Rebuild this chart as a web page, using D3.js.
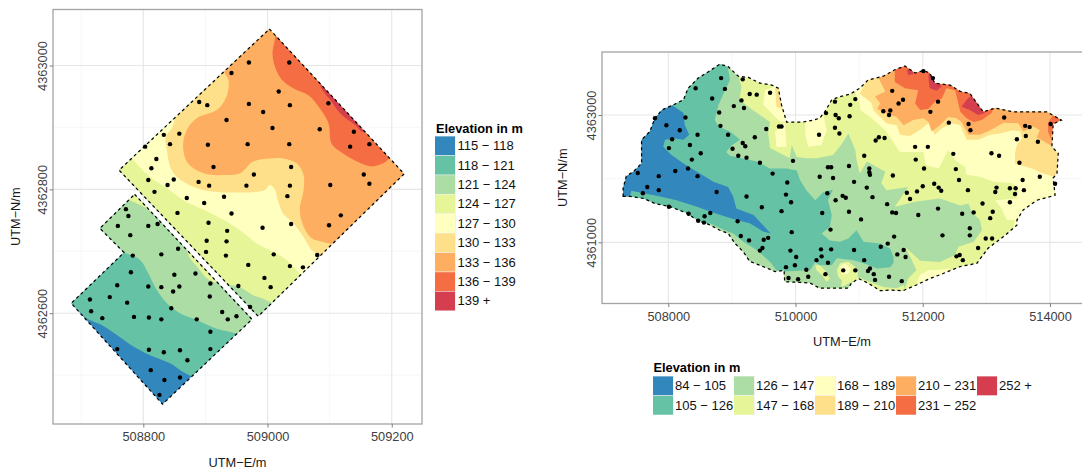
<!DOCTYPE html>
<html>
<head>
<meta charset="utf-8">
<script src="https://cdn.jsdelivr.net/npm/d3@7"></script>
<style>
    html, body { margin: 0; padding: 0; background: #fff; overflow: hidden; }
    text { font-family: "Liberation Sans", Arial, sans-serif; }
</style>
</head>
<body>
<script>
// all coordinates are metres east / north of the base values below
const leftBaseE = 508000, leftBaseN = 4362000;
const rightBaseE = 500000, rightBaseN = 4360000;

const palette = ['#3288bd', '#66c2a5', '#abdda4', '#e6f598', '#ffffbf', '#fee08b', '#fdae61', '#f46d43', '#d53e4f'];
const leftLabels = ['115 − 118', '118 − 121', '121 − 124', '124 − 127', '127 − 130', '130 − 133', '133 − 136', '136 − 139', '139 +'];
const rightLabels = ['84 − 105', '105 − 126', '126 − 147', '147 − 168', '168 − 189', '189 − 210', '210 − 231', '231 − 252', '252 +'];

const leftTicksE = [508800, 509000, 509200];
const leftTicksN = [4362600, 4362800, 4363000];
const leftMinorE = [508700, 508900, 509100];
const leftMinorN = [4362500, 4362700, 4362900];
const rightTicksE = [508000, 510000, 512000, 514000];
const rightTicksN = [4361000, 4363000];
const rightMinorE = [509000, 511000, 513000];
const rightMinorN = [4362000];

// survey fields, left map
const fieldUpper = [[1003,1059],[1220,825],[985,595],[761,831]];
const fieldLower = [[786,792],[975,590],[831,453],[684,616],[769,698],[730,737]];

// left map: area above each break, painted in order over the lowest band
const above118 = [[666,621],[698,602],[708,592],[733,581],[757,565],[784,546],[811,532],[843,519],[864,505],[878,497],[915,460],[1300,460],[1300,1100],[650,1100]];
const above121 = [[746,710],[769,698],[795,686],[808,664],[822,637],[838,616],[859,600],[886,589],[918,575],[948,567],[972,548],[1300,548],[1300,1100],[700,1100],[700,760]];
const above124 = [[746,807],[771,786],[804,770],[835,742],[862,718],[875,689],[886,676],[907,653],[932,645],[953,643],[977,629],[1004,618],[1036,589],[1300,589],[1300,1100],[746,1100]];
const above127 = [[771,863],[780,852],[811,820],[838,802],[864,783],[897,767],[934,748],[966,726],[983,712],[1009,699],[1031,686],[1052,663],[1084,621],[1300,621],[1300,1100],[771,1100]];
const above130 = [[843,944],[851,920],[846,899],[836,885],[838,863],[843,837],[854,820],[886,802],[913,796],[956,795],[983,796],[996,799],[1004,807],[1012,799],[1015,788],[1025,761],[1042,745],[1058,723],[1071,702],[1082,694],[1101,670],[1300,670],[1300,1100],[843,1100]];
const above133 = [[930,1009],[930,990],[937,977],[934,950],[918,928],[886,915],[870,896],[864,869],[872,842],[897,826],[934,823],[956,826],[977,845],[1004,850],[1025,850],[1047,842],[1058,823],[1058,799],[1052,767],[1058,740],[1071,721],[1090,715],[1104,710],[1117,686],[1300,686],[1300,1100],[930,1100]];
const above136 = [[1012,1073],[1012,1044],[1008,1020],[1012,998],[1023,977],[1042,963],[1066,952],[1084,931],[1098,907],[1103,874],[1117,861],[1144,845],[1168,837],[1186,842],[1196,850],[1229,880],[1229,1100],[1012,1100]];
const above139 = [[1076,985],[1082,974],[1090,958],[1103,942],[1117,923],[1141,904],[1154,893],[1181,912],[1117,993]];
const leftAreas = [above118, above121, above124, above127, above130, above133, above136, above139];

const leftSamples = [
    [970,1005],[1035,1005],[942,988],[1018,958],[890,941],[903,936],[970,938],[993,925],[1036,936],[934,912],
    [1008,899],[858,890],[833,888],[803,869],[843,873],[904,872],[968,873],[1035,873],[821,849],[813,834],
    [913,836],[1038,836],[808,815],[839,807],[849,816],[889,812],[906,806],[966,806],[978,824],[1036,806],
    [818,796],[870,786],[898,778],[930,788],[1032,789],[855,762],[942,761],[772,768],[776,757],[759,741],
    [808,741],[823,744],[905,746],[935,733],[992,738],[1038,744],[779,726],[902,717],[934,716],[856,704],
    [901,699],[933,693],[783,693],[829,695],[1010,695],[969,678],[1036,676],[780,666],[884,664],[850,662],
    [995,657],[758,645],[808,643],[829,642],[858,643],[848,635],[908,648],[953,644],[1005,642],[746,626],
    [714,622],[774,617],[907,627],[845,608],[972,610],[716,603],[927,602],[734,592],[785,594],[809,593],
    [829,590],[886,590],[936,590],[950,595],[908,570],[758,542],[809,541],[833,537],[859,540],[908,542],
    [871,524],[812,508],[834,492],[859,496],[826,468],[1098,939],[1084,897],[1139,893],[1133,869],[1164,873],
    [1155,824],[1101,807],[1164,809],[1118,758],[1099,742],[1080,694],[1057,674]
];

// study area, right map
const catchment = [
    [7290,1720],[7290,1850],[7340,2040],[7450,2110],[7580,2240],[7580,2610],[7710,2740],[7790,2950],[7900,3080],[8080,3160],
    [8240,3240],[8310,3420],[8470,3580],[8630,3680],[8810,3800],[8940,3760],[9100,3610],[9260,3590],[9440,3500],[9630,3470],
    [9730,3420],[9780,3160],[9860,2890],[9990,2890],[10120,2890],[10280,2920],[10380,2950],[10460,3050],[10570,3240],[10700,3290],
    [10860,3330],[11010,3420],[11140,3550],[11380,3610],[11560,3710],[11720,3770],[11880,3660],[12010,3700],[12110,3660],[12190,3500],
    [12430,3470],[12590,3370],[12740,3340],[12950,3050],[13140,3110],[13420,3050],[13710,3050],[13950,3050],[14180,2920],[14050,2860],
    [14030,2500],[14130,2400],[14110,2080],[14050,2010],[14080,1740],[13790,1660],[13580,1510],[13480,1350],[13480,1270],[13270,1090],
    [13030,910],[12850,670],[12590,620],[12320,510],[12110,430],[11900,330],[11690,240],[11490,250],[11330,240],[11140,360],
    [10990,430],[10880,360],[10830,280],[10590,280],[10380,280],[10230,360],[10120,370],[9830,380],[9820,560],[9680,540],
    [9440,640],[9280,700],[9180,850],[9050,980],[8940,1140],[8810,1190],[8660,1270],[8450,1350],[8290,1460],[8030,1560],
    [7790,1610],[7610,1690],[7400,1720]
];

// right map: elevation patches, painted in the order of rightAreas over the 147-168 band
const patchMid = [[8500,3860],[8920,3840],[9100,3710],[9100,3610],[9150,3450],[9120,3240],[9310,3090],[9440,3000],[9600,2890],[9570,2710],[9600,2480],[9760,2400],[9910,2320],[9940,2530],[10020,2340],[10180,2320],[10330,2320],[10590,2370],[10730,2550],[10830,2710],[10940,2450],[10960,2290],[11010,2080],[11120,2270],[11410,2110],[11350,1930],[11430,1820],[11770,1870],[11560,1560],[11900,1640],[12270,1690],[12590,1580],[12720,1610],[12770,1480],[12900,1350],[12930,1190],[12800,1010],[12560,930],[12510,800],[12270,690],[11960,710],[11720,930],[11830,720],[11900,560],[11770,430],[11700,220],[11700,-170],[7970,350],[7140,1400],[7140,2450]];
const patchTeal = [[7140,1610],[7140,2450],[7450,3240],[8500,3860],[8920,3840],[8970,3550],[8870,3340],[8790,3160],[8730,2920],[8790,2820],[8970,2740],[9130,2610],[9000,2530],[8910,2420],[8970,2360],[9390,2270],[9600,2160],[9860,2160],[10020,2130],[10070,1980],[10170,1820],[10310,1660],[10440,1790],[10590,1830],[10510,1660],[10570,1430],[10540,1240],[10410,1140],[10540,1030],[10700,1010],[10830,1060],[10960,1190],[11070,1010],[11330,980],[11490,900],[11540,770],[11540,670],[11490,610],[11280,590],[11070,670],[10910,720],[10650,750],[10570,640],[10380,640],[10310,690],[10230,560],[9810,540],[9700,560],[9600,690],[9390,880],[9180,1010],[9020,1140],[8890,1190],[8650,1300],[8500,1090],[7450,1300]];
const patchBlue = [[8080,3140],[8240,3030],[8260,2840],[8330,2690],[8240,2610],[8100,2630],[7950,2610],[7920,2500],[8050,2370],[8240,2240],[8450,2110],[8710,1950],[8940,1870],[9020,1720],[9070,1530],[9340,1430],[9610,1140],[9490,1170],[9280,1300],[9070,1350],[8760,1450],[8450,1560],[8130,1660],[7820,1730],[7610,1770],[7420,1810],[7400,1730],[7290,1690],[7140,1690],[7140,2450],[7450,3240],[7970,3240]];
const southStrip = [[10960,460],[11170,380],[11380,300],[11590,280],[11700,330],[11750,150],[10910,150]];
const southPocketA = [[10310,640],[10380,640],[10480,540],[10540,430],[10490,380],[10410,490],[10330,560]];
const southPocketB = [[10650,560],[10700,670],[10830,700],[10930,620],[10980,510],[10970,420],[10830,350],[10710,300],[10730,400],[10670,460]];
const southCore = [[10700,620],[10780,670],[10870,590],[10830,510],[10730,500]];
const southEastCore = [[11900,350],[11960,490],[12090,560],[12270,570],[12430,590],[12320,490],[12060,410]];
const northPatchA = [[9520,3390],[9680,3450],[9780,3160],[9890,2890],[9760,2890],[9600,3050],[9490,3160]];
const northPatchB = [[9680,2740],[9830,2890],[9860,2500],[9700,2500]];
const northPatchC = [[10150,2890],[10440,3000],[10490,2760],[10410,2530],[10200,2500],[10160,2660]];
const northSliver = [[9680,3420],[9750,3430],[9810,3090],[9700,3130]];
const patch168 = [[10910,3500],[10960,3290],[11010,3180],[11020,3080],[11200,2950],[11410,2760],[11640,2420],[12010,2420],[12050,2210],[12250,2160],[12400,2450],[12510,2290],[12590,2230],[12660,2190],[12690,2060],[12900,2030],[13110,1950],[13420,1930],[13500,1820],[13480,1690],[13140,1660],[13240,1530],[13320,1350],[13450,1350],[13420,1170],[13630,1170],[14370,1720],[14370,3240],[11220,3760]];
const patch189 = [[11010,3340],[11200,3180],[11220,3080],[11330,2970],[11430,2870],[11590,2840],[11640,2690],[11800,2670],[11960,2770],[12090,2870],[12190,2690],[12300,2790],[12460,2870],[12590,2840],[12690,2610],[12870,2610],[13060,2690],[13210,2710],[13420,2760],[13530,2740],[13560,2630],[13480,2530],[13450,2400],[13450,2240],[13710,2160],[13900,2080],[14160,2000],[14370,2000],[14370,3240],[11220,3760]];
const patch210 = [[11280,3630],[11360,3470],[11410,3370],[11250,3290],[11330,3180],[11280,3100],[11410,3030],[11590,2970],[11700,2840],[11850,2920],[12010,2950],[12090,2890],[12140,2740],[12270,2840],[12400,2970],[12530,2950],[12610,2890],[12720,2690],[12900,2690],[13060,2760],[13270,2880],[13500,2870],[13580,2740],[13740,2820],[13840,2760],[13790,2650],[14000,2530],[14260,2500],[14370,3240],[11700,4020],[11280,3860]];
const patch231 = [[11560,3680],[11560,3520],[11720,3420],[11930,3390],[11880,3180],[11960,3080],[12090,3100],[12190,3210],[12300,3260],[12370,3420],[12510,3390],[12560,3180],[12590,3050],[12690,2950],[12800,2890],[12930,2920],[13080,3030],[13220,3340],[12590,3970],[11750,3970]];
const patch231Tip = [[13970,2880],[14050,3000],[14260,2920],[14050,2820],[14010,2630],[13970,2740]];
const patch252A = [[11750,3710],[11770,3630],[11850,3640],[11830,3730]];
const patch252B = [[12090,3580],[12110,3420],[12220,3380],[12300,3450],[12190,3550],[12140,3650],[12090,3650]];
const patch252C = [[12770,3310],[12690,3240],[12610,3130],[12740,3080],[12870,3000],[12980,3030],[12870,3180],[12800,3310]];

const rightAreas = [
    patchMid, patchTeal, patchBlue, southStrip, southPocketA, southPocketB, southCore, southEastCore,
    northPatchA, northPatchB, northPatchC, northSliver, patch168, patch189, patch210, patch231, patch231Tip,
    patch252A, patch252B, patch252C
];
const rightAreaBands = [2, 1, 0, 3, 3, 3, 4, 4, 4, 4, 4, 5, 4, 5, 6, 7, 7, 8, 8, 8];

const rightSamples = [
    [8830,3580],[9170,3560],[8430,3420],[8890,3410],[9280,3330],[9390,3320],[9600,3350],[8690,3260],[9150,3230],[9030,3140],
    [9190,3110],[8800,3040],[7790,2950],[8270,2960],[7970,2840],[8180,2760],[8820,2830],[9740,2820],[9780,2820],[9540,2780],
    [8460,2690],[8940,2690],[9360,2650],[8060,2620],[8340,2530],[9170,2560],[9210,2510],[8010,2480],[9010,2470],[8510,2400],
    [9100,2360],[9230,2330],[8370,2300],[9960,2280],[9440,2250],[8310,2160],[8110,2120],[7520,2090],[9640,2080],[7850,2040],
    [8460,2040],[10380,2030],[10510,2180],[10560,2180],[10590,2010],[10370,2690],[9870,1940],[7670,1870],[7600,1770],[7850,1820],
    [8760,1790],[9850,1750],[9230,1720],[10500,1770],[10630,1660],[9930,1630],[8010,1560],[9470,1550],[9780,1490],[10420,1460],
    [8320,1450],[8660,1460],[8570,1410],[8470,1340],[8560,1310],[9090,1330],[10550,1200],[9940,1160],[9140,1100],[9570,1070],
    [9500,1040],[9270,1030],[9480,910],[9440,870],[9920,870],[10400,890],[10560,890],[10010,770],[10410,780],[10330,720],
    [10510,680],[9990,640],[9850,610],[10170,570],[10470,500],[9890,440],[10040,420],[10200,460],[10620,3210],[10480,3030],
    [10630,3000],[10680,2950],[10620,2800],[10690,2710],[10940,3250],[10860,3160],[10850,2980],[11520,3380],[12010,3690],[12160,3580],
    [11690,3240],[11620,3180],[12240,3210],[11380,3060],[11490,3070],[11470,3000],[12120,3050],[12410,2880],[12720,2860],[12750,2760],
    [13280,2960],[13610,2830],[13680,2810],[14010,2860],[13620,2670],[13480,2620],[13810,2580],[11310,2650],[11400,2640],[11260,2600],
    [11880,2500],[12080,2500],[11080,2360],[12480,2390],[13080,2400],[13200,2360],[11890,2300],[13520,2250],[10840,2200],[11160,2160],
    [11160,2100],[11170,2060],[12020,2160],[12520,2150],[11530,2050],[13840,2030],[10920,1950],[12570,1980],[13570,1980],[14080,1920],
    [12180,1920],[12000,1880],[12250,1860],[12290,1810],[11120,1860],[11910,1800],[11750,1780],[12710,1820],[13160,1860],[13140,1790],
    [13370,1850],[13460,1850],[13590,1820],[13450,1760],[10740,1730],[10790,1700],[11210,1710],[11800,1680],[13370,1630],[11440,1600],
    [12940,1610],[12240,1530],[13100,1480],[12800,1470],[10840,1480],[11520,1470],[11580,1460],[11930,1430],[12620,1450],[13060,1380],
    [11030,1360],[12740,1220],[12740,1110],[12310,1110],[11550,1090],[12990,1060],[13090,1060],[11450,980],[11340,930],[10920,880],
    [11700,880],[12870,910],[11600,810],[11730,770],[12530,780],[12580,800],[12630,720],[11080,720],[11170,590],[11140,550],
    [10750,560],[10940,560],[11230,500],[11470,460],[11250,410],[11670,390]
];

const svg = d3.select('body').append('svg')
    .attr('width', 1082)
    .attr('height', 471);

function drawMap(opts) {
    const x = d3.scaleLinear().domain(opts.domainE).range(opts.rangeX);
    const y = d3.scaleLinear().domain(opts.domainN).range(opts.rangeY);
    const px = d => x(opts.baseE + d[0]);
    const py = d => y(opts.baseN + d[1]);
    const ring = d3.line().x(px).y(py).curve(d3.curveLinearClosed);
    const band = d3.line().x(px).y(py).curve(opts.bandCurve);

    const [left, right] = opts.rangeX;
    const [bottom, top] = opts.rangeY;
    const g = svg.append('g');

    // grid under everything
    const gridRange = (vals, cls, colour, width) => {
        g.selectAll('.v' + cls).data(vals.e).enter().append('line')
            .attr('class', 'v' + cls)
            .attr('x1', d => x(d)).attr('x2', d => x(d))
            .attr('y1', top).attr('y2', bottom)
            .attr('stroke', colour).attr('stroke-width', width);
        g.selectAll('.h' + cls).data(vals.n).enter().append('line')
            .attr('class', 'h' + cls)
            .attr('y1', d => y(d)).attr('y2', d => y(d))
            .attr('x1', left).attr('x2', right)
            .attr('stroke', colour).attr('stroke-width', width);
    };
    gridRange({ e: opts.minorE, n: opts.minorN }, 'minor', '#f4f4f4', 0.7);
    gridRange({ e: opts.ticksE, n: opts.ticksN }, 'major', '#e6e6e6', 1.1);

    svg.append('clipPath').attr('id', opts.id)
        .selectAll('path').data(opts.outlines).enter().append('path')
        .attr('d', ring);

    const bands = g.append('g').attr('clip-path', `url(#${opts.id})`);

    bands.append('rect')
        .attr('x', left).attr('y', top)
        .attr('width', right - left).attr('height', bottom - top)
        .attr('fill', palette[opts.baseBand]);

    bands.selectAll('.area').data(opts.areas).enter().append('path')
        .attr('class', 'area')
        .attr('d', band)
        .attr('fill', (d, i) => palette[opts.areaBands[i]]);

    g.selectAll('.outline').data(opts.outlines).enter().append('path')
        .attr('class', 'outline')
        .attr('d', ring)
        .attr('fill', 'none')
        .attr('stroke', '#000')
        .attr('stroke-width', 1.25)
        .attr('stroke-dasharray', '3,3');

    g.selectAll('.sample').data(opts.samples).enter().append('circle')
        .attr('class', 'sample')
        .attr('cx', px)
        .attr('cy', py)
        .attr('r', 2.2)
        .attr('fill', '#000');

    g.append('rect')
        .attr('x', left).attr('y', top)
        .attr('width', right - left).attr('height', bottom - top)
        .attr('fill', 'none')
        .attr('stroke', '#a3a3a3')
        .attr('stroke-width', 1.3);

    const xAxis = d3.axisBottom(x).tickValues(opts.ticksE).tickSize(3.5).tickFormat(d3.format('d'));
    const yAxis = d3.axisLeft(y).tickValues(opts.ticksN).tickSize(3.5).tickFormat(d3.format('d'));

    const xg = g.append('g').attr('transform', `translate(0,${bottom})`).call(xAxis);
    const yg = g.append('g').attr('transform', `translate(${left},0)`).call(yAxis);

    xg.selectAll('text')
        .attr('y', 17).attr('dy', 0);
    yg.selectAll('text')
        .attr('transform', 'rotate(-90)')
        .attr('x', 0).attr('y', -6.5).attr('dy', 0)
        .style('text-anchor', 'middle');

    [xg, yg].forEach(a => {
        a.select('.domain').remove();
        a.selectAll('line').attr('stroke', '#7f7f7f');
        a.selectAll('text')
            .attr('fill', '#404040')
            .style('font-family', '"Liberation Sans", Arial, sans-serif')
            .style('font-size', '12.8px');
    });

    g.append('text')
        .attr('x', opts.titleX).attr('y', bottom + 42.5)
        .attr('text-anchor', 'middle')
        .attr('fill', '#1a1a1a')
        .style('font-size', '12.8px')
        .text('UTM−E/m');

    g.append('text')
        .attr('transform', `translate(${opts.titleY},${(top + bottom) / 2}) rotate(-90)`)
        .attr('text-anchor', 'middle')
        .attr('fill', '#1a1a1a')
        .style('font-size', '12.8px')
        .text('UTM−N/m');
}

function drawLegend(opts) {
    const g = svg.append('g');

    g.append('text')
        .attr('x', opts.titleX).attr('y', opts.titleBaseline)
        .style('font-size', '12.8px')
        .style('font-weight', 'bold')
        .text('Elevation in m');

    const key = g.selectAll('.key').data(opts.labels).enter().append('g')
        .attr('class', 'key')
        .attr('transform', (d, i) => `translate(${opts.keyX(i)},${opts.keyY(i)})`);

    key.append('rect')
        .attr('width', 21)
        .attr('height', 19.4)
        .attr('fill', '#f2f2f2');

    key.append('rect')
        .attr('y', 0.4)
        .attr('width', 20)
        .attr('height', 18.9)
        .attr('fill', (d, i) => palette[i]);

    key.append('text')
        .attr('x', opts.labelDx(0))
        .attr('y', 14.2)
        .attr('fill', '#111')
        .style('font-size', '13px')
        .text(d => d);
}

drawMap({
    id: 'clip-left',
    baseE: leftBaseE, baseN: leftBaseN,
    domainE: [508654.6, 509248.7], domainN: [4362421, 4363090.5],
    rangeX: [53, 422], rangeY: [424, 9.5],
    ticksE: leftTicksE, ticksN: leftTicksN, minorE: leftMinorE, minorN: leftMinorN,
    outlines: [fieldUpper, fieldLower],
    baseBand: 0,
    areas: leftAreas,
    areaBands: leftAreas.map((d, i) => i + 1),
    bandCurve: d3.curveCatmullRomClosed.alpha(0.5),
    samples: leftSamples,
    titleX: 237.5, titleY: 20
});

drawMap({
    id: 'clip-right',
    baseE: rightBaseE, baseN: rightBaseN,
    domainE: [506958, 514629], domainN: [4360039, 4363990],
    rangeX: [602, 1090], rangeY: [303.5, 52],
    ticksE: rightTicksE, ticksN: rightTicksN, minorE: rightMinorE, minorN: rightMinorN,
    outlines: [catchment],
    baseBand: 3,
    areas: rightAreas,
    areaBands: rightAreaBands,
    bandCurve: d3.curveLinearClosed,
    samples: rightSamples,
    titleX: 842, titleY: 567
});

drawLegend({
    labels: leftLabels,
    titleX: 436, titleBaseline: 133,
    keyX: () => 435,
    keyY: i => 136 + i * 19.4,
    labelDx: () => 22.5
});

// two rows, filled column by column
const legendColumns = d3.scaleLinear().domain([0, 4]).range([653, 977]);
drawLegend({
    labels: rightLabels,
    titleX: 653.5, titleBaseline: 371.5,
    keyX: i => legendColumns(Math.floor(i / 2)),
    keyY: i => 376 + (i % 2) * 19.4,
    labelDx: () => 22
});
</script>
</body>
</html>
